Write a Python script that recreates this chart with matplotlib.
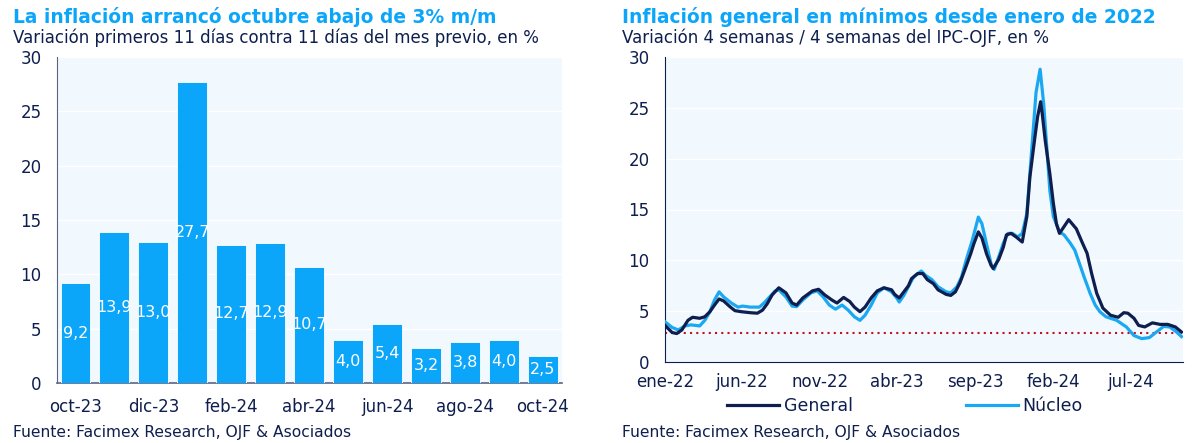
import matplotlib
matplotlib.use("Agg")
import matplotlib.pyplot as plt
import pandas as pd

# ---------------- data ----------------
bar_months = ["oct-23", "nov-23", "dic-23", "ene-24", "feb-24", "mar-24", "abr-24",
              "may-24", "jun-24", "jul-24", "ago-24", "sep-24", "oct-24"]
bar_values = [9.2, 13.9, 13.0, 27.7, 12.7, 12.9, 10.7, 4.0, 5.4, 3.2, 3.8, 4.0, 2.5]

general_dates = [
    "2022-01-01", "2022-01-15", "2022-01-24", "2022-02-03", "2022-02-15", "2022-02-24",
    "2022-03-10", "2022-03-20", "2022-03-30", "2022-04-08", "2022-04-17", "2022-04-26",
    "2022-05-08", "2022-05-18", "2022-05-30", "2022-06-17", "2022-07-01", "2022-07-11",
    "2022-07-20", "2022-07-30", "2022-08-12", "2022-08-26", "2022-09-07", "2022-09-16",
    "2022-09-28", "2022-10-17", "2022-10-29", "2022-11-10", "2022-11-24", "2022-12-04",
    "2022-12-17", "2022-12-29", "2023-01-07", "2023-01-18", "2023-01-28", "2023-02-09",
    "2023-02-21", "2023-03-06", "2023-03-21", "2023-03-27", "2023-04-05", "2023-04-14",
    "2023-04-23", "2023-04-29", "2023-05-11", "2023-05-21", "2023-05-30", "2023-06-11",
    "2023-06-20", "2023-07-06", "2023-07-15", "2023-07-24", "2023-08-02", "2023-08-11",
    "2023-08-23", "2023-08-29", "2023-09-07", "2023-09-14", "2023-09-23", "2023-10-02",
    "2023-10-06", "2023-10-17", "2023-10-26", "2023-11-01", "2023-11-10", "2023-11-20",
    "2023-12-02", "2023-12-11", "2023-12-17", "2023-12-26", "2024-01-01", "2024-01-07",
    "2024-01-10", "2024-01-16", "2024-01-25", "2024-02-01", "2024-02-07", "2024-02-13",
    "2024-02-19", "2024-03-02", "2024-03-17", "2024-03-29", "2024-04-07", "2024-04-16",
    "2024-04-26", "2024-05-08", "2024-05-23", "2024-06-07", "2024-06-18", "2024-06-26",
    "2024-07-08", "2024-07-17", "2024-07-29", "2024-08-13", "2024-08-28", "2024-09-12",
    "2024-09-27", "2024-10-09"]
general_values = [
    3.6, 2.9, 2.8, 3.15, 4.1, 4.4,
    4.3, 4.45, 4.95, 5.6, 6.2, 6.0,
    5.45, 5.05, 4.95, 4.85, 4.8, 5.1,
    5.7, 6.6, 7.3, 6.8, 5.8, 5.6,
    6.3, 7.0, 7.15, 6.6, 6.1, 5.8,
    6.35, 5.95, 5.4, 4.95, 5.4, 6.3,
    7.0, 7.3, 7.1, 6.65, 6.3, 6.9,
    7.5, 8.2, 8.7, 8.7, 8.1, 7.7,
    7.1, 6.65, 6.55, 6.9, 7.8, 9.0,
    10.65, 11.6, 12.8, 12.2, 10.65, 9.5,
    9.2, 10.1, 11.3, 12.5, 12.65, 12.3,
    11.8, 14.3, 18.2, 21.8, 24.1, 25.6,
    24.5, 21.8, 18.55, 15.6, 13.6, 12.65,
    13.1, 14.0, 13.1, 11.7, 10.7, 8.7,
    6.75, 5.3, 4.6, 4.4, 4.85, 4.8,
    4.3, 3.6, 3.45, 3.85, 3.7, 3.7,
    3.45, 2.95]

nucleo_dates = [
    "2022-01-01", "2022-01-15", "2022-01-27", "2022-02-09", "2022-02-21", "2022-03-10",
    "2022-03-20", "2022-03-30", "2022-04-08", "2022-04-17", "2022-04-26", "2022-05-11",
    "2022-05-24", "2022-06-02", "2022-06-17", "2022-07-05", "2022-07-14", "2022-07-25",
    "2022-08-05", "2022-08-12", "2022-08-26", "2022-09-07", "2022-09-16", "2022-09-28",
    "2022-10-14", "2022-10-26", "2022-11-07", "2022-11-19", "2022-12-01", "2022-12-14",
    "2022-12-26", "2023-01-07", "2023-01-18", "2023-01-28", "2023-02-09", "2023-02-21",
    "2023-03-06", "2023-03-21", "2023-03-31", "2023-04-05", "2023-04-14", "2023-04-26",
    "2023-05-03", "2023-05-18", "2023-05-27", "2023-06-08", "2023-06-20", "2023-07-06",
    "2023-07-15", "2023-07-27", "2023-08-05", "2023-08-14", "2023-08-26", "2023-09-07",
    "2023-09-14", "2023-09-23", "2023-10-02", "2023-10-08", "2023-10-17", "2023-10-26",
    "2023-11-04", "2023-11-13", "2023-11-23", "2023-12-02", "2023-12-11", "2023-12-17",
    "2023-12-23", "2023-12-29", "2024-01-06", "2024-01-13", "2024-01-19", "2024-01-25",
    "2024-02-01", "2024-02-13", "2024-02-22", "2024-03-05", "2024-03-14", "2024-03-23",
    "2024-04-01", "2024-04-13", "2024-04-23", "2024-05-02", "2024-05-14", "2024-06-04",
    "2024-06-23", "2024-07-08", "2024-07-23", "2024-08-07", "2024-08-21", "2024-09-04",
    "2024-09-16", "2024-09-27", "2024-10-09"]
nucleo_values = [
    3.95, 3.4, 3.15, 3.55, 3.65, 3.55,
    4.1, 4.95, 6.1, 6.9, 6.4, 5.8,
    5.4, 5.5, 5.4, 5.4, 5.8, 6.4,
    7.0, 7.1, 6.4, 5.5, 5.45, 6.1,
    6.8, 7.0, 6.4, 5.6, 5.2, 5.6,
    5.1, 4.45, 4.1, 4.6, 5.6, 6.8,
    7.3, 6.9, 6.3, 5.9, 6.55, 7.7,
    8.35, 8.95, 8.5, 8.1, 7.4, 6.9,
    6.8, 7.4, 8.35, 10.0, 11.95, 14.25,
    13.6, 11.6, 9.65, 9.1, 10.35, 11.7,
    12.65, 12.65, 12.3, 12.65, 14.6, 18.55,
    22.5, 26.5, 28.8, 25.4, 21.2, 16.9,
    14.3, 12.8, 12.5, 11.7, 11.0, 9.7,
    8.4, 6.75, 5.6, 4.95, 4.45, 4.1,
    3.45, 2.6, 2.3, 2.4, 2.95, 3.5,
    3.45, 3.05, 2.5]

reference_level = 2.9
line_tick_dates = ["2022-01-01", "2022-06-01", "2022-11-01", "2023-04-01",
                   "2023-09-01", "2024-02-01", "2024-07-01"]
line_tick_labels = ["ene-22", "jun-22", "nov-22", "abr-23", "sep-23", "feb-24", "jul-24"]

# ---------------- style ----------------
NAVY = "#0E1E4E"
BLUE = "#0BA6FA"
LIGHT = "#1AA8F2"
BG = "#F1F8FE"
plt.rcParams["font.family"] = ["DejaVu Sans"]
TICK_FS = 12

fig = plt.figure(figsize=(12, 4.43), dpi=100)

# ---------------- left: bars ----------------
ax1 = fig.add_axes([57 / 1200, 1 - 383 / 443, 505 / 1200, 326 / 443])
ax1.set_facecolor(BG)
x = list(range(len(bar_values)))
bars = ax1.bar(x, bar_values, width=0.77, color=BLUE, edgecolor="white", linewidth=0.6, zorder=3)
labels = [f"{v:.1f}".replace(".", ",") for v in bar_values]
ax1.bar_label(bars, labels=labels, label_type="center", color="white", fontsize=11.5, zorder=4)
ax1.set_ylim(0, 30)
ax1.set_xlim(-0.475, 12.49)
ax1.set_yticks(range(0, 31, 5))
ax1.set_xticks(x[::2])
ax1.set_xticklabels(bar_months[::2])
ax1.grid(axis="y", color="white", linewidth=1.0, zorder=1)
ax1.tick_params(axis="both", length=0, labelsize=TICK_FS, labelcolor=NAVY)
ax1.tick_params(axis="y", pad=11)
ax1.tick_params(axis="x", pad=11)
for s in ["top", "right"]:
    ax1.spines[s].set_visible(False)
ax1.spines["left"].set_color("#5A6585")
ax1.spines["bottom"].set_color("#5A6585")
ax1.spines["bottom"].set_linewidth(1.2)

# ---------------- right: lines ----------------
ax2 = fig.add_axes([665 / 1200, 1 - 362 / 443, 518 / 1200, 305 / 443])
ax2.set_facecolor(BG)
gd = pd.to_datetime(general_dates)
nd = pd.to_datetime(nucleo_dates)
ax2.axhline(reference_level, color="#C0141B", linestyle=(0, (1, 2)), linewidth=1.5, zorder=2)
ax2.plot(gd, general_values, color=NAVY, linewidth=2.3, label="General", zorder=4,
         solid_joinstyle="round")
ax2.plot(nd, nucleo_values, color=LIGHT, linewidth=2.3, label="Núcleo", zorder=3,
         solid_joinstyle="round")
ax2.set_ylim(0, 30)
ax2.set_xlim(pd.Timestamp("2022-01-01"), pd.Timestamp("2024-10-12"))
ax2.set_yticks(range(0, 31, 5))
ax2.set_xticks(pd.to_datetime(line_tick_dates))
ax2.set_xticklabels(line_tick_labels)
ax2.grid(axis="y", color="white", linewidth=1.0, zorder=1)
ax2.tick_params(axis="both", length=0, labelsize=TICK_FS, labelcolor=NAVY)
ax2.tick_params(axis="y", pad=11)
ax2.tick_params(axis="x", pad=8)
for s in ["top", "right"]:
    ax2.spines[s].set_visible(False)
ax2.spines["left"].set_color(NAVY)
ax2.spines["bottom"].set_color(NAVY)
leg = ax2.legend(ncol=2, loc="center", bbox_to_anchor=(0.463, -0.143), frameon=False,
                 handlelength=3.0, columnspacing=6.5, fontsize=12.5, handletextpad=0.25)
for t in leg.get_texts():
    t.set_color(NAVY)

# ---------------- titles / notes ----------------
fig.text(13 / 1200, 1 - 17 / 443, "La inflación arrancó octubre abajo de 3% m/m",
         color=BLUE, fontsize=13.4, fontweight="bold", va="center", ha="left")
fig.text(13 / 1200, 1 - 38 / 443, "Variación primeros 11 días contra 11 días del mes previo, en %",
         color=NAVY, fontsize=12, va="center", ha="left")
fig.text(622 / 1200, 1 - 17 / 443, "Inflación general en mínimos desde enero de 2022",
         color=BLUE, fontsize=13.4, fontweight="bold", va="center", ha="left")
fig.text(622 / 1200, 1 - 38 / 443, "Variación 4 semanas / 4 semanas del IPC-OJF, en %",
         color=NAVY, fontsize=12, va="center", ha="left")
fig.text(13 / 1200, 1 - 432 / 443, "Fuente: Facimex Research, OJF & Asociados",
         color=NAVY, fontsize=11.2, va="center", ha="left")
fig.text(622 / 1200, 1 - 432 / 443, "Fuente: Facimex Research, OJF & Asociados",
         color=NAVY, fontsize=11.2, va="center", ha="left")

fig.savefig("out.png", dpi=100, facecolor="white")
